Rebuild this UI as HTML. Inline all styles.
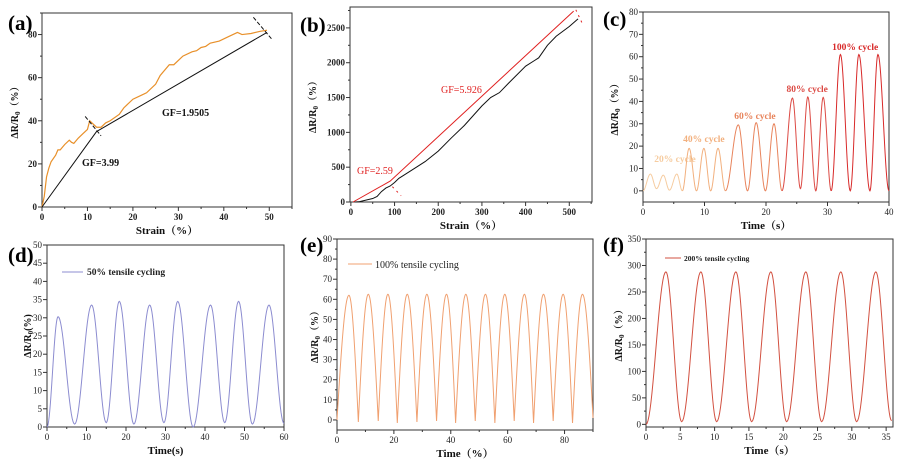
<!DOCTYPE html>
<html><head><meta charset="utf-8">
<style>
html,body{margin:0;padding:0;background:#fff;}
svg{display:block;font-family:"Liberation Serif","Noto Serif CJK SC",serif;}
</style></head>
<body>
<svg id="fig" width="905" height="469" viewBox="0 0 905 469" xmlns="http://www.w3.org/2000/svg"></svg>
<script>
// ---- Panel (a) data ----
const aStrain=[0,0.5,1,1.5,2,3,3.5,4,5,6,6.5,7,8,9,10,10.5,11,12,13,14,15,17,18,20,22,23,25,26,28,29,31,33,34,35,36,37,39,41,42,43,44,46,48,49.5];
const aResp=[0,5,14,18,21,24,26.5,26.5,29,31,30,29.5,32,34,36,40,39,37,37,39,40,43,46,50,52,53,57,61,66,66,70,72,72.5,74,74.5,76,77,79,80,81,80,80.5,81.5,82];
const aFitX=[0,12,49.5];
const aFitY=[0,35,81];
// ---- Panel (b) data ----
const bStrain=[10,20,50,60,70,80,90,100,110,120,150,170,200,230,260,300,320,340,360,400,420,430,450,470,500,520];
const bResp=[0,5,50,80,150,200,230,280,340,380,500,580,730,920,1100,1380,1500,1570,1700,1950,2030,2070,2250,2380,2520,2630];
const bFitX=[5,90,510];
const bFitY=[0,300,2740];
// ---- Panel (c) data (extrema) ----
const cTimes=[0,1.2,2.2,3.3,4.3,5.5,6.4,7.5,8.7,9.9,11,12.2,13.4,15.5,17,18.4,19.9,21.3,22.6,24.3,25.6,26.8,28.1,29.3,30.6,32.1,33.7,35.1,36.9,38.2,40];
const cValues=[0,7.5,1,7,0.3,7.5,0,19,0,19,0,19,0,29.5,0,30.5,0,30,0,41.5,1,42,0,41.8,0,61,0,61,0,61,0];
const cLabels=["20% cycle","40% cycle","60% cycle","80% cycle","100% cycle"];
const cLabelT=[5.2,9.9,18.2,26.7,34.5];
const cLabelV=[14.2,23.2,33.5,45.5,64.3];
// ---- Panel (d) data ----
const dTimes=[0,2.8,7,11.3,15,18.3,22,26,29.6,33.1,37,41.4,45,48.5,52,56.2,60];
const dValues=[0,30.3,0.8,33.5,1.2,34.5,0.8,33.5,1.2,34.5,0,33.5,1.2,34.5,0.8,33.5,1];
// ---- Panel (e) data ----
const eTimes=[0,4.2,7.5,11,14.5,17.9,21.2,24.7,28.1,31.6,35,38.5,41.7,45.3,48.6,52.2,55.5,59,62.3,65.9,69.1,72.6,76,79.5,82.8,86.3,90];
const eValues=[0,62,-1,62.5,-0.5,62.5,-1.5,62.5,-1,62.5,-0.5,62.5,-1.5,62.5,-0.5,62.5,-1.5,62.5,-0.5,62.5,-1.5,62.5,-0.5,62.5,-1.5,62.5,1];
// ---- Panel (f) data ----
const fTimes=[0,2.9,5.2,8,10.3,13.1,15.4,18.2,20.5,23.3,25.6,28.4,30.7,33.5,35.8];
const fValues=[0,288,5,288,5,288,5,288,5,288,5,288,5,288,7];

const NS="http://www.w3.org/2000/svg";
const svg=document.getElementById('fig');
function mk(tag,attrs,parent){const e=document.createElementNS(NS,tag);for(const k in attrs)e.setAttribute(k,attrs[k]);(parent||svg).appendChild(e);return e;}
function txt(s,attrs,parent){const e=mk('text',attrs,parent);e.textContent=s;return e;}

function panel(o){
  const g=mk('g',{});
  
  
  const sx=v=>o.L+(v-o.x0)/(o.x1-o.x0)*(o.R-o.L);
  const sy=v=>o.B-(v-o.y0)/(o.y1-o.y0)*(o.B-o.T);
  const fr=mk('rect',{x:o.L,y:o.T,width:o.R-o.L,height:o.B-o.T,fill:'none',stroke:'#333','stroke-width':1},g);
  
  
  const fw=o.bold?'bold':'normal';
  for(let v=o.xs;v<=o.x1+1e-9;v+=o.xminor){
    const X=sx(v);const major=Math.abs(((v-o.xs)/o.xmajor)-Math.round((v-o.xs)/o.xmajor))<1e-6;
    const t=mk('line',{x1:X,x2:X,y1:o.B,y2:o.B+(major?4:2),stroke:'#333'},g);
    
    
    if(major){const l=txt(String(+v.toFixed(2)),{x:X,y:o.B+13,'font-size':9,'font-weight':fw,'text-anchor':'middle',fill:'#222'},g);
      
      }
  }
  for(let v=o.ys;v<=o.y1+1e-9;v+=o.yminor){
    const Y=sy(v);const major=Math.abs(((v-o.ys)/o.ymajor)-Math.round((v-o.ys)/o.ymajor))<1e-6;
    const t=mk('line',{x1:o.L,x2:o.L-(major?4:2),y1:Y,y2:Y,stroke:'#333'},g);
    
    
    if(major){const l=txt(String(+v.toFixed(2)),{x:o.L-5,y:Y+3,'font-size':9,'font-weight':fw,'text-anchor':'end',fill:'#222'},g);
      
      }
  }
  const xt=txt(o.xtitle,{x:(o.L+o.R)/2,y:o.B+27,'font-size':11,'font-weight':'bold','text-anchor':'middle',fill:'#111'},g);
  
  
  const yx=o.ytx,yy=(o.T+o.B)/2;
  const yt=mk('text',{x:yx,y:yy,'font-size':10,'font-weight':'bold','text-anchor':'middle',fill:'#111',transform:`rotate(-90 ${yx} ${yy})`},g);
  yt.innerHTML=o.ytitle;
  
  
  const pl=txt(o.label,{x:o.lx,y:o.ly,'font-size':21,'font-weight':'bold',fill:'#000'},g);
  
  
  return {g,sx,sy};
}
function poly(g,xs,ys,sx,sy,color,w,name){
  const p=mk('polyline',{points:xs.map((x,i)=>sx(x)+','+sy(ys[i])).join(' '),fill:'none',stroke:color,'stroke-width':w||1},g);
  
  
  return p;
}
function wavePts(ts,vs,i,sx,sy,cusp){
  const pts=[];const a=vs[i],b=vs[i+1],t0=ts[i],t1=ts[i+1];
  for(let k=0;k<=20;k++){const f=k/20;let s;
    if(cusp){s=(b>a)?Math.sin(f*Math.PI/2):1-Math.sin((1-f)*Math.PI/2);} else s=(1-Math.cos(Math.PI*f))/2;
    pts.push(sx(t0+(t1-t0)*f)+','+sy(a+(b-a)*s));}
  return pts;
}
function wave(g,ts,vs,sx,sy,color,name,cusp){
  let pts=[];for(let i=0;i<ts.length-1;i++)pts=pts.concat(wavePts(ts,vs,i,sx,sy,cusp));
  const p=mk('polyline',{points:pts.join(' '),fill:'none',stroke:color,'stroke-width':1},g);
  
  
}
const YT='ΔR/R<tspan font-size="7" dy="2">0</tspan><tspan dy="-2">（%）</tspan>';

// (a)
let P=panel({id:'a',L:42,R:292,T:13,B:207,x0:0,x1:55,y0:0,y1:90,xs:0,xmajor:10,xminor:5,ys:0,ymajor:20,yminor:10,bold:true,xtitle:'Strain（%）',ytitle:YT,ytx:18,label:'(a)',lx:8,ly:30});
poly(P.g,aStrain,aResp,P.sx,P.sy,'#e8902a',1.2,'strain-response-curve');
poly(P.g,aFitX,aFitY,P.sx,P.sy,'#111',1,'gf-fit-line');
[[ [9.5,42],[13,33] ],[ [46.5,88],[50.5,78] ]].forEach(s=>{const l=mk('line',{x1:P.sx(s[0][0]),y1:P.sy(s[0][1]),x2:P.sx(s[1][0]),y2:P.sy(s[1][1]),stroke:'#111','stroke-dasharray':'4,2'},P.g);
 
 });
let t=txt('GF=1.9505',{x:162,y:116,'font-size':10,'font-weight':'bold',fill:'#111'},P.g);


t=txt('GF=3.99',{x:82,y:166,'font-size':10,'font-weight':'bold',fill:'#111'},P.g);



// (b)
P=panel({id:'b',L:350,R:592,T:7,B:202,x0:-2,x1:552,y0:0,y1:2800,xs:0,xmajor:100,xminor:50,ys:0,ymajor:500,yminor:250,bold:true,xtitle:'Strain（%）',ytitle:YT,ytx:316,label:'(b)',lx:300,ly:32});
poly(P.g,bStrain,bResp,P.sx,P.sy,'#111',1,'strain-response-curve');
poly(P.g,bFitX,bFitY,P.sx,P.sy,'#e02020',1,'gf-fit-line');
[[ [95,220],[115,90] ],[ [515,2760],[530,2560] ]].forEach(s=>{const l=mk('line',{x1:P.sx(s[0][0]),y1:P.sy(s[0][1]),x2:P.sx(s[1][0]),y2:P.sy(s[1][1]),stroke:'#e02020','stroke-dasharray':'2,4'},P.g);
 
 });
t=txt('GF=2.59',{x:357,y:174,'font-size':10,fill:'#e02020'},P.g);


t=txt('GF=5.926',{x:441,y:93,'font-size':10,fill:'#e02020'},P.g);



// (c)
P=panel({id:'c',L:643,R:889,T:12,B:202,x0:0,x1:40,y0:-5,y1:80,xs:0,xmajor:10,xminor:5,ys:0,ymajor:10,yminor:5,bold:false,xtitle:'Time（s）',ytitle:YT,ytx:618,label:'(c)',lx:603,ly:26});
const cCols=['#f6cca0','#f2b07e','#e8845c','#dc4a44','#d82a2a'];
for(let gi=0;gi<5;gi++){let pts=[];for(let i=gi*6;i<gi*6+6&&i<cTimes.length-1;i++)pts=pts.concat(wavePts(cTimes,cValues,i,P.sx,P.sy,false));
  const p=mk('polyline',{points:pts.join(' '),fill:'none',stroke:cCols[gi],'stroke-width':1},P.g);
  
  
  const l=txt(cLabels[gi],{x:P.sx(cLabelT[gi]),y:P.sy(cLabelV[gi])+3,'font-size':9.5,'font-weight':'bold','text-anchor':'middle',fill:cCols[gi]},P.g);
  
  }

// (d)
P=panel({id:'d',L:47,R:284,T:245,B:427,x0:0,x1:60,y0:0,y1:50,xs:0,xmajor:10,xminor:5,ys:0,ymajor:5,yminor:5,bold:false,xtitle:'Time(s)',ytitle:'ΔR/R<tspan font-size="7" dy="2">0</tspan><tspan dy="-2">(%)</tspan>',ytx:31,label:'(d)',lx:8,ly:262});
wave(P.g,dTimes,dValues,P.sx,P.sy,'#8c8cd0','tensile-cycling-50-curve',false);
let lg=mk('line',{x1:62,x2:83,y1:272,y2:272,stroke:'#8c8cd0'},P.g);


t=txt('50% tensile cycling',{x:87,y:275,'font-size':9.5,'font-weight':'bold',fill:'#222'},P.g);



// (e)
P=panel({id:'e',L:337,R:593,T:239,B:430,x0:0,x1:90,y0:-5,y1:90,xs:0,xmajor:20,xminor:10,ys:0,ymajor:10,yminor:5,bold:false,xtitle:'Time（%）',ytitle:YT,ytx:318,label:'(e)',lx:300,ly:252});
wave(P.g,eTimes,eValues,P.sx,P.sy,'#f0a070','tensile-cycling-100-curve',true);
lg=mk('line',{x1:348,x2:372,y1:264,y2:264,stroke:'#f0a070'},P.g);


t=txt('100% tensile cycling',{x:375,y:268,'font-size':10,fill:'#222'},P.g);



// (f)
P=panel({id:'f',L:646,R:893,T:239,B:427,x0:0,x1:36,y0:-5,y1:350,xs:0,xmajor:5,xminor:2.5,ys:0,ymajor:50,yminor:25,bold:false,xtitle:'Time（s）',ytitle:YT,ytx:622,label:'(f)',lx:603,ly:252});
wave(P.g,fTimes,fValues,P.sx,P.sy,'#d25040','tensile-cycling-200-curve',false);
lg=mk('line',{x1:665,x2:681,y1:258,y2:258,stroke:'#d25040'},P.g);


t=txt('200% tensile cycling',{x:684,y:261,'font-size':7.5,'font-weight':'bold',fill:'#222'},P.g);


</script>
</body></html>
